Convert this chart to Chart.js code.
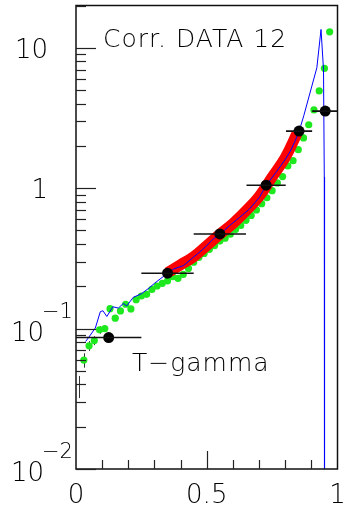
<!DOCTYPE html>
<html><head><meta charset="utf-8">
<script src="https://cdn.jsdelivr.net/npm/chart.js@4/dist/chart.umd.min.js"></script>
<style>html,body{margin:0;padding:0;background:#fff;overflow:hidden}#wrap{width:343px;height:507px;position:relative}</style>
</head><body><div id="wrap"><canvas id="c"></canvas></div>
<script>
// ---- data ----
const blackX    = [0.125, 0.35, 0.55, 0.727, 0.853, 0.953];
const blackXErr = [0.125, 0.10, 0.10, 0.075, 0.05, 0.05];
const blackY    = [0.0863, 0.248, 0.472, 1.05, 2.55, 3.54];

const greenX = [0.03,0.05,0.07,0.09,0.11,0.13,0.15,0.17,0.19,0.21,0.23,0.25,0.27,0.29,0.31,0.33,0.35,0.37,0.39,0.41,
                0.43,0.45,0.47,0.49,0.51,0.53,0.55,0.57,0.59,0.61,0.63,0.65,0.67,0.69,0.71,0.73,0.75,0.77,0.79,0.81,
                0.83,0.85,0.87,0.89,0.91,0.93,0.95,0.97];
const greenY = [0.0597,0.0754,0.0822,0.098,0.100,0.1387,0.1186,0.1336,0.149,0.138,0.1607,0.1706,0.1754,0.190,0.201,0.210,0.219,0.234,0.228,0.243,
                0.268,0.297,0.322,0.343,0.367,0.39,0.42,0.44,0.47,0.507,0.543,0.59,0.64,0.70,0.775,0.855,0.96,1.09,1.21,1.44,
                1.57,1.88,2.28,2.83,3.61,4.93,7.14,12.98];
const greenErr = [0.007,0.006,0.006,0.006,0.005,0.006,0.005,0.005,0.005,0.005,0.005,0.005,0.005,0.005,0.005,0.005,0.005,0.005,0.005,0.005,
                  0.006,0.006,0.006,0.007,0.007,0.007,0.008,0.008,0.008,0.009,0.009,0.01,0.01,0.011,0.012,0.013,0.014,0.016,0.018,0.02,
                  0.022,0.025,0.03,0.035,0.045,0.06,0.09,0.15];
// lone error bar at the left edge (marker not visible)
const stubX = [0.012], stubLo = [0.032], stubHi = [0.046];

const redX = [0.35,0.40,0.45,0.50,0.55,0.60,0.65,0.70,0.75,0.80,0.845];
const redY = [0.25,0.285,0.325,0.39,0.47,0.56,0.69,0.87,1.2,1.65,2.45];

const blueX = [0.037,0.055,0.074,0.093,0.103,0.118,0.141,0.162,0.181,0.194,0.219,0.25,0.28,0.30,0.325,0.35,0.374,0.411,0.449,0.487,
               0.525,0.552,0.587,0.625,0.663,0.701,0.726,0.764,0.801,0.82,0.837,0.854,0.871,0.921,0.937,0.9465,0.9495,0.9505];
const blueY = [0.081,0.090,0.101,0.132,0.134,0.122,0.143,0.140,0.151,0.145,0.167,0.177,0.195,0.21,0.228,0.248,0.266,0.281,0.322,0.369,
               0.435,0.472,0.541,0.618,0.71,0.857,1.04,1.29,1.61,1.84,2.15,2.57,3.28,7.2,13.5,7.0,1.2,0.0001];

// ---- axis labels ----
const yTickValues = [10, 1, 0.1, 0.01];
const yTickBase   = ['10', '1', '10', '10'];
const yTickExp    = ['', '', '\u22121', '\u22122'];
const xTickValues = [0, 0.5, 1];
const xTickLabels = ['0', '0.5', '1'];
const xMinorStep = 0.1;
const titleText = 'Corr. DATA 12';
const tagText = 'T\u2212gamma';

const pts = (xs, ys) => xs.map((x, i) => ({x, y: ys[i]}));

const FONT = "'DejaVu Sans', 'Liberation Sans', sans-serif";

const deco = {
  id: 'deco',
  beforeDatasetsDraw(chart) {
    const {ctx, scales: {x, y}, chartArea: a} = chart;
    ctx.save();
    ctx.beginPath(); ctx.rect(a.left, a.top, a.right - a.left, a.bottom - a.top); ctx.clip();
    ctx.strokeStyle = '#333'; ctx.lineWidth = 1;
    greenX.forEach((gx, i) => {
      const px = Math.round(x.getPixelForValue(gx)) + 0.5;
      ctx.beginPath();
      ctx.moveTo(px, y.getPixelForValue(greenY[i] + greenErr[i]));
      ctx.lineTo(px, y.getPixelForValue(Math.max(greenY[i] - greenErr[i], 1e-6)));
      ctx.stroke();
    });
    stubX.forEach((sx, i) => {
      const px = Math.round(x.getPixelForValue(sx)) + 0.5;
      ctx.beginPath();
      ctx.moveTo(px, y.getPixelForValue(stubHi[i]));
      ctx.lineTo(px, y.getPixelForValue(stubLo[i]));
      ctx.stroke();
    });
    ctx.restore();
  },
  afterDatasetsDraw(chart) {
    const {ctx, scales: {x, y}, chartArea: a} = chart;
    ctx.save();
    // black horizontal error bars
    ctx.save();
    ctx.beginPath(); ctx.rect(a.left, a.top, a.right - a.left, a.bottom - a.top); ctx.clip();
    ctx.strokeStyle = '#111'; ctx.lineWidth = 1.6;
    blackX.forEach((bx, i) => {
      const py = y.getPixelForValue(blackY[i]);
      ctx.beginPath();
      ctx.moveTo(x.getPixelForValue(bx - blackXErr[i]), py);
      ctx.lineTo(x.getPixelForValue(bx + blackXErr[i]), py);
      ctx.stroke();
    });
    ctx.restore();

    // frame
    ctx.strokeStyle = '#111'; ctx.lineWidth = 1.5;
    ctx.strokeRect(a.left, a.top, a.right - a.left, a.bottom - a.top);

    // y ticks (log)
    ctx.strokeStyle = '#222'; ctx.lineWidth = 1.2;
    for (let e = -2; e <= 1; e++) {
      for (let m = 1; m <= 9; m++) {
        const v = m * Math.pow(10, e);
        if (v < y.min || v > y.max) continue;
        const py = Math.round(y.getPixelForValue(v)) + 0.5;
        const len = m === 1 ? 20 : 10;
        ctx.beginPath(); ctx.moveTo(a.left, py); ctx.lineTo(a.left + len, py); ctx.stroke();
      }
    }
    // x ticks
    for (let k = 1; k < 10; k++) {
      const v = k * xMinorStep;
      const px = Math.round(x.getPixelForValue(v)) + 0.5;
      const len = k === 5 ? 18 : 9;
      ctx.beginPath(); ctx.moveTo(px, a.bottom); ctx.lineTo(px, a.bottom - len); ctx.stroke();
    }

    // labels
    ctx.fillStyle = '#000';
    ctx.textBaseline = 'alphabetic';
    yTickValues.forEach((v, i) => {
      const py = y.getPixelForValue(v);
      if (yTickExp[i]) {
        ctx.font = '200 26px ' + FONT; ctx.textAlign = 'right';
        ctx.fillText(yTickBase[i], 44, py + 12);
        ctx.font = '200 21px ' + FONT; ctx.textAlign = 'left';
        ctx.fillText(yTickExp[i], 42, py - 11);
      } else {
        ctx.font = '200 26px ' + FONT; ctx.textAlign = 'right';
        ctx.fillText(yTickBase[i], 48, py + 10);
      }
    });
    ctx.font = '200 26px ' + FONT; ctx.textAlign = 'center';
    xTickValues.forEach((v, i) => {
      ctx.fillText(xTickLabels[i], x.getPixelForValue(v), 503);
    });

    ctx.font = '200 25px ' + FONT; ctx.textAlign = 'left';
    ctx.letterSpacing = '1px';
    ctx.fillText(titleText, a.left + 27, 47);
    ctx.fillText(tagText, a.left + 56, 371);
    ctx.restore();
  }
};

new Chart(document.getElementById('c'), {
  type: 'scatter',
  data: {
    datasets: [
      {type: 'scatter', data: pts(blackX, blackY), pointRadius: 5.5, backgroundColor: '#000', borderWidth: 0, order: 0},
      {type: 'line', data: pts(blueX, blueY), borderColor: '#0000ff', borderWidth: 1, pointRadius: 0, tension: 0, fill: false, order: 1},
      {type: 'line', data: pts(redX, redY), borderColor: '#ff0000', borderWidth: 11, pointRadius: 0, tension: 0.4, fill: false, order: 2},
      {type: 'scatter', data: pts(greenX, greenY), pointRadius: 3.6, backgroundColor: '#1ee81e', borderWidth: 0, order: 3}
    ]
  },
  options: {
    responsive: true, maintainAspectRatio: false, animation: false, devicePixelRatio: 1,
    events: [],
    layout: {padding: {left: 76, right: 2, top: 5, bottom: 38}},
    plugins: {legend: {display: false}, tooltip: {enabled: false}},
    scales: {
      x: {type: 'linear', min: 0, max: 1, display: false},
      y: {type: 'logarithmic', min: 0.01, max: 20, display: false}
    }
  },
  plugins: [deco]
});
</script>
</body></html>
